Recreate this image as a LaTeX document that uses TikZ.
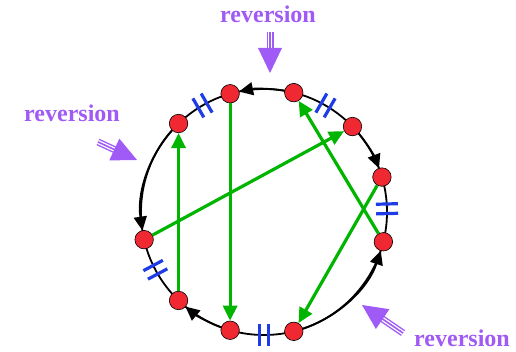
\documentclass[tikz,border=0pt]{standalone}
\usepackage{fontspec}
\setmainfont{Liberation Serif}
\usetikzlibrary{arrows.meta,calc}
\definecolor{revpurple}{RGB}{160,90,245}
\definecolor{ptred}{RGB}{240,40,50}
\definecolor{chordgreen}{RGB}{0,180,0}
\definecolor{tickblue}{RGB}{30,60,230}
\begin{document}
\begin{tikzpicture}[x=1pt,y=1pt,
  ptnode/.style={circle,draw=black,line width=0.6pt,fill=ptred,minimum size=18.5pt,inner sep=0pt},
  chord/.style={draw=chordgreen,line width=3.2pt,-{Triangle[length=15pt,width=14pt]}},
  rim/.style={draw=black,line width=1.8pt},
  rimarrow/.style={draw=black,line width=1.8pt,-{Triangle[length=14pt,width=13pt]}},
  tickmark/.style={draw=tickblue,line width=3.2pt},
  revlabel/.style={text=revpurple,font=\fontsize{24}{28}\selectfont\bfseries,anchor=base},
  revouter/.style={draw=revpurple,line width=7pt},
  revwhite/.style={draw=white,line width=4.2pt},
  revinner/.style={draw=revpurple,line width=1.6pt},
]
\useasboundingbox (0,0) rectangle (516,352);
\coordinate (O) at (264,140);
\def\R{123}
\draw[rim] (O) circle (\R);
% rim arrows
\draw[rimarrow] ($(O)+(80:\R)$) arc[start angle=80,end angle=101.7,radius=\R];
\draw[rimarrow] ($(O)+(40:\R)$) arc[start angle=40,end angle=20.8,radius=\R];
\draw[rimarrow] ($(O)+(-72:\R)$) arc[start angle=-72,end angle=-18.3,radius=\R];
\draw[rimarrow] ($(O)+(-110:\R)$) arc[start angle=-110,end angle=-129.7,radius=\R];
\draw[rimarrow] ($(O)+(138:\R)$) arc[start angle=138,end angle=188.7,radius=\R];
% double tick marks
\foreach \t in {120,60,1.5,-90,208}{
  \begin{scope}[shift={(O)},rotate=\t]
    \draw[tickmark] ({\R-11},4.8) -- ({\R+11},4.8);
    \draw[tickmark] ({\R-11},-4.8) -- ({\R+11},-4.8);
  \end{scope}
}
% points
\foreach \n/\a in {A/106,B/76,C/44,D/16.5,E/-14,F/-76,G/-106,H/-134,I/193,J/134}{
  \node[ptnode] (\n) at ($(O)+(\a:\R)$) {};
}
% chords
\draw[chord] (H) -- (J);
\draw[chord] (A) -- (G);
\draw[chord] (I) -- (C);
\draw[chord] (E) -- (B);
\draw[chord] (D) -- (F);
% reversion labels
\node[revlabel] (lt) at (268,329) {reversion};
\node[revlabel] (ll) at (72,230) {reversion};
\node[revlabel] (lb) at (462,5) {reversion};
% reversion arrows
\foreach \sx/\sy/\ex/\ey/\k in {270/320/270/279/1, 98/210/137/192/2, 403/19/362/47/3}{
  \coordinate (rs\k) at (\sx,\sy);
  \coordinate (rt\k) at (\ex,\ey);
  \coordinate (rb\k) at ($(rt\k)!25pt!(rs\k)$);
  \coordinate (rm\k) at ($(rt\k)!23pt!(rs\k)$);
  \draw[revouter] (rs\k) -- (rm\k);
  \draw[revwhite] (rs\k) -- (rm\k);
  \draw[revinner] (rs\k) -- (rm\k);
  \fill[revpurple] (rt\k) -- ($(rb\k)!12pt!90:(rt\k)$) -- ($(rb\k)!12pt!-90:(rt\k)$) -- cycle;
}
\end{tikzpicture}
\end{document}
